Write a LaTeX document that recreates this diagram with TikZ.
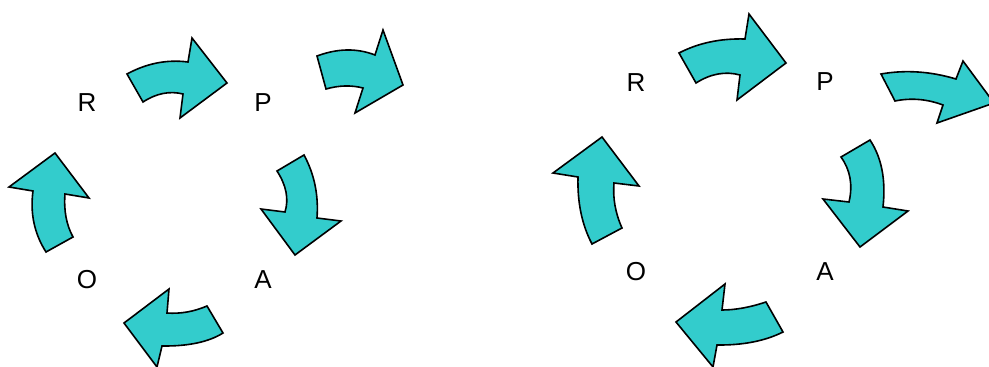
\documentclass[tikz,border=0pt]{standalone}
\usepackage{fontspec}
\setmainfont{Liberation Sans}
\definecolor{arrowcyan}{RGB}{51,204,204}
\tikzset{
	bigarrow/.style={draw=black,fill=arrowcyan,line width=1.6pt,line join=miter},
	letter/.style={inner sep=0pt,font=\fontsize{26}{30}\selectfont}
}
\begin{document}
\begin{tikzpicture}[x=1pt,y=-1pt]
	\useasboundingbox (0,0) rectangle (989,367);

	\node[letter] (lR) at (87,103) {R};
	\node[letter] (lP) at (263,103) {P};
	\node[letter] (lO) at (87,280) {O};
	\node[letter] (lA) at (263,280) {A};

	\draw[bigarrow] (127,74) .. controls (146.7,63.3) and (167,59.3) .. (188,62) -- (192,38) -- (227,83) -- (180,118) -- (183,94) .. controls (169.7,90.7) and (156.3,93.3) .. (143,102) -- cycle;
	\draw[bigarrow] (317,56) .. controls (337.7,48.3) and (357,48) .. (375,55) -- (383,30) -- (403,85) -- (355,113) -- (363,88) .. controls (351.3,85) and (339,85.3) .. (326,89) -- cycle;
	\draw[bigarrow] (304,155) .. controls (314.3,174) and (318.7,195) .. (317,218) -- (341,221) -- (295,255) -- (261,209) -- (285,212) .. controls (289,199) and (286.3,185.3) .. (277,171) -- cycle;
	\draw[bigarrow] (223,333) .. controls (208.7,342) and (188.3,346.3) .. (162,346) -- (157,367) -- (124,323) -- (169,289) -- (167,313) .. controls (180.3,314) and (193.7,311.7) .. (207,306) -- cycle;
	\draw[bigarrow] (46,252) .. controls (34.3,233.7) and (30,213.3) .. (33,191) -- (9,187) -- (55,153) -- (89,198) -- (65,194) .. controls (63.7,210.3) and (66.3,224.7) .. (73,237) -- cycle;

	\node[letter] (rR) at (636,83) {R};
	\node[letter] (rP) at (825,82) {P};
	\node[letter] (rO) at (636,272) {O};
	\node[letter] (rA) at (825,272) {A};

	\draw[bigarrow] (679,53) .. controls (698.3,43) and (720.3,38.3) .. (745,39) -- (749,14) -- (786,63) -- (737,100) -- (740,75) .. controls (725.3,71) and (710.7,73.7) .. (696,83) -- cycle;
	\draw[bigarrow] (881,74) .. controls (905.3,69.7) and (930.3,71.3) .. (956,79) -- (963,61) -- (994,103) -- (937,123) -- (943,105) .. controls (927,99) and (911,97.7) .. (895,101) -- cycle;
	\draw[bigarrow] (870,140) .. controls (881.7,157.7) and (886,180) .. (883,207) -- (908,211) -- (860,247) -- (823,199) -- (849,202) .. controls (853,185) and (850.3,170) .. (841,157) -- cycle;
	\draw[bigarrow] (783,332) .. controls (765,341) and (743,345.3) .. (717,345) -- (713,367) -- (676,322) -- (725,284) -- (722,310) .. controls (735.3,310) and (750,307.3) .. (766,302) -- cycle;
	\draw[bigarrow] (592,244) .. controls (582,225) and (577.3,202.7) .. (578,177) -- (553,173) -- (602,137) -- (639,186) -- (614,183) .. controls (612.7,198) and (615.3,213) .. (622,228) -- cycle;
\end{tikzpicture}
\end{document}
